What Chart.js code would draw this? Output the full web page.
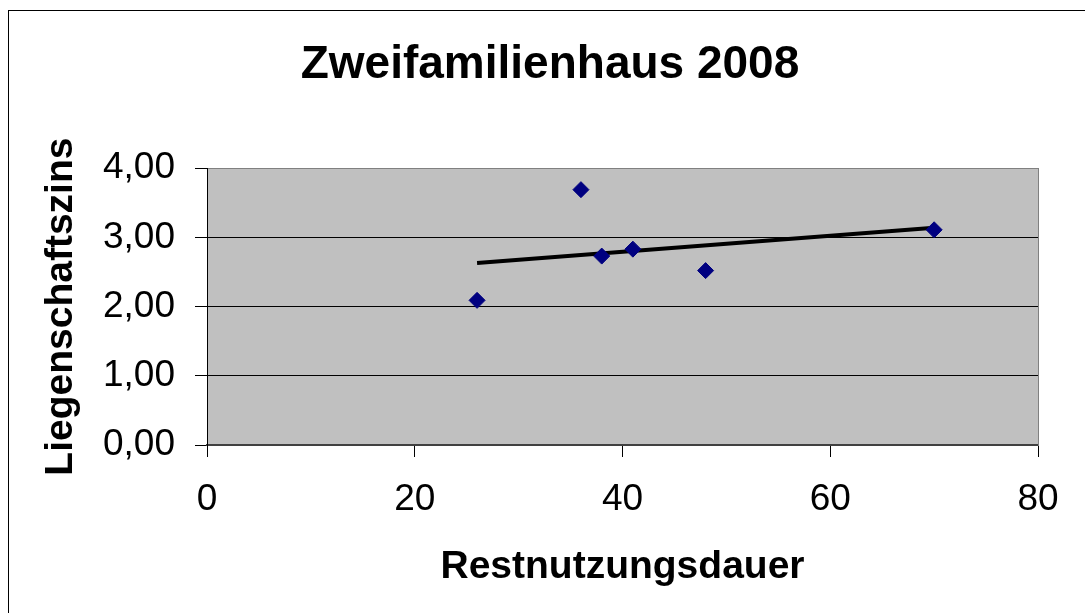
<!DOCTYPE html>
<html>
<head>
<meta charset="utf-8">
<script src="https://cdn.jsdelivr.net/npm/chart.js@4"></script>
<style>
    html, body { margin: 0; padding: 0; background: #fff; }
    #wrap { position: relative; width: 1085px; height: 613px; overflow: hidden; }
    #frame { position: absolute; left: 8px; top: 10px; width: 1200px; height: 700px;
             border-left: 1px solid #000; border-top: 1px solid #000; }
    canvas { position: absolute; left: 0; top: 0; }
</style>
</head>
<body>
<div id="wrap">
    <div id="frame"></div>
    <canvas id="chart" width="1085" height="613"></canvas>
</div>
<script>
// values
const restnutzungsdauer = [26, 36, 38, 41, 48, 70];
const liegenschaftszins = [2.09, 3.69, 2.73, 2.83, 2.52, 3.11];

// linear trend line, end points
const trendX = [26, 70];
const trendY = [2.63, 3.14];

const chartTitle = 'Zweifamilienhaus 2008';
const xTitle = 'Restnutzungsdauer';
const yTitle = 'Liegenschaftszins';

const fontFamily = '"Liberation Sans", Arial, sans-serif';

const points = restnutzungsdauer.map((x, i) => ({ x: x, y: liegenschaftszins[i] }));
const trend = trendX.map((x, i) => ({ x: x, y: trendY[i] }));

// grey plot area
const plotBackground = {
    id: 'plotBackground',
    beforeDraw(chart) {
        const { ctx, chartArea } = chart;
        ctx.save();
        ctx.fillStyle = '#c0c0c0';
        ctx.fillRect(chartArea.left, chartArea.top, chartArea.right - chartArea.left, chartArea.bottom - chartArea.top);
        ctx.restore();
    }
};

new Chart(document.getElementById('chart'), {
    type: 'scatter',
    data: {
        datasets: [
            {
                label: 'Liegenschaftszins',
                data: points,
                pointStyle: 'rectRot',
                pointRadius: 8,
                backgroundColor: '#000080',
                borderColor: '#000080',
                borderWidth: 1
            },
            {
                label: 'Trend',
                data: trend,
                showLine: true,
                borderColor: '#000',
                borderWidth: 4,
                pointRadius: 0,
                fill: false
            }
        ]
    },
    options: {
        responsive: false,
        animation: false,
        layout: { padding: { left: 15, right: 0, top: 0, bottom: 0 } },
        plugins: {
            legend: { display: false },
            tooltip: { enabled: false },
            title: {
                display: true,
                text: chartTitle,
                color: '#000',
                font: { family: fontFamily, size: 46, weight: 'bold' },
                padding: { top: 38, bottom: 75 }
            }
        },
        scales: {
            x: {
                type: 'linear',
                position: 'bottom',
                min: 0,
                max: 80,
                ticks: {
                    stepSize: 20,
                    color: '#000',
                    padding: 21,
                    maxRotation: 0,
                    font: { family: fontFamily, size: 37 }
                },
                grid: {
                    drawOnChartArea: false,
                    tickLength: 12,
                    color: '#000'
                },
                border: { color: '#404040', width: 2 },
                title: {
                    display: true,
                    text: xTitle,
                    color: '#000',
                    font: { family: fontFamily, size: 39, weight: 'bold' },
                    padding: { top: 0, bottom: 22 }
                },
                afterFit(scale) { scale.height = 168; }
            },
            y: {
                type: 'linear',
                position: 'left',
                min: 0,
                max: 4,
                ticks: {
                    stepSize: 1,
                    color: '#000',
                    padding: 20,
                    font: { family: fontFamily, size: 37 },
                    callback: v => v.toFixed(2).replace('.', ',')
                },
                grid: {
                    tickLength: 12,
                    tickColor: '#000',
                    color: ctx => ctx.tick.value === 4 ? '#808080' : (ctx.tick.value === 0 ? '#404040' : '#000'),
                    lineWidth: 1
                },
                border: { color: '#000', width: 1 },
                title: {
                    display: true,
                    text: yTitle,
                    color: '#000',
                    font: { family: fontFamily, size: 39, weight: 'bold' },
                    padding: { top: 23, bottom: 0 }
                },
                afterFit(scale) { scale.width = 192; }
            },
            // empty right scale only keeps the plot's right edge in place
            y2: {
                type: 'linear',
                position: 'right',
                display: true,
                ticks: { display: false },
                grid: { display: false, drawTicks: false },
                border: { display: true, color: '#808080', width: 1 },
                afterFit(scale) { scale.width = 47; }
            }
        }
    },
    plugins: [plotBackground]
});
</script>
</body>
</html>
